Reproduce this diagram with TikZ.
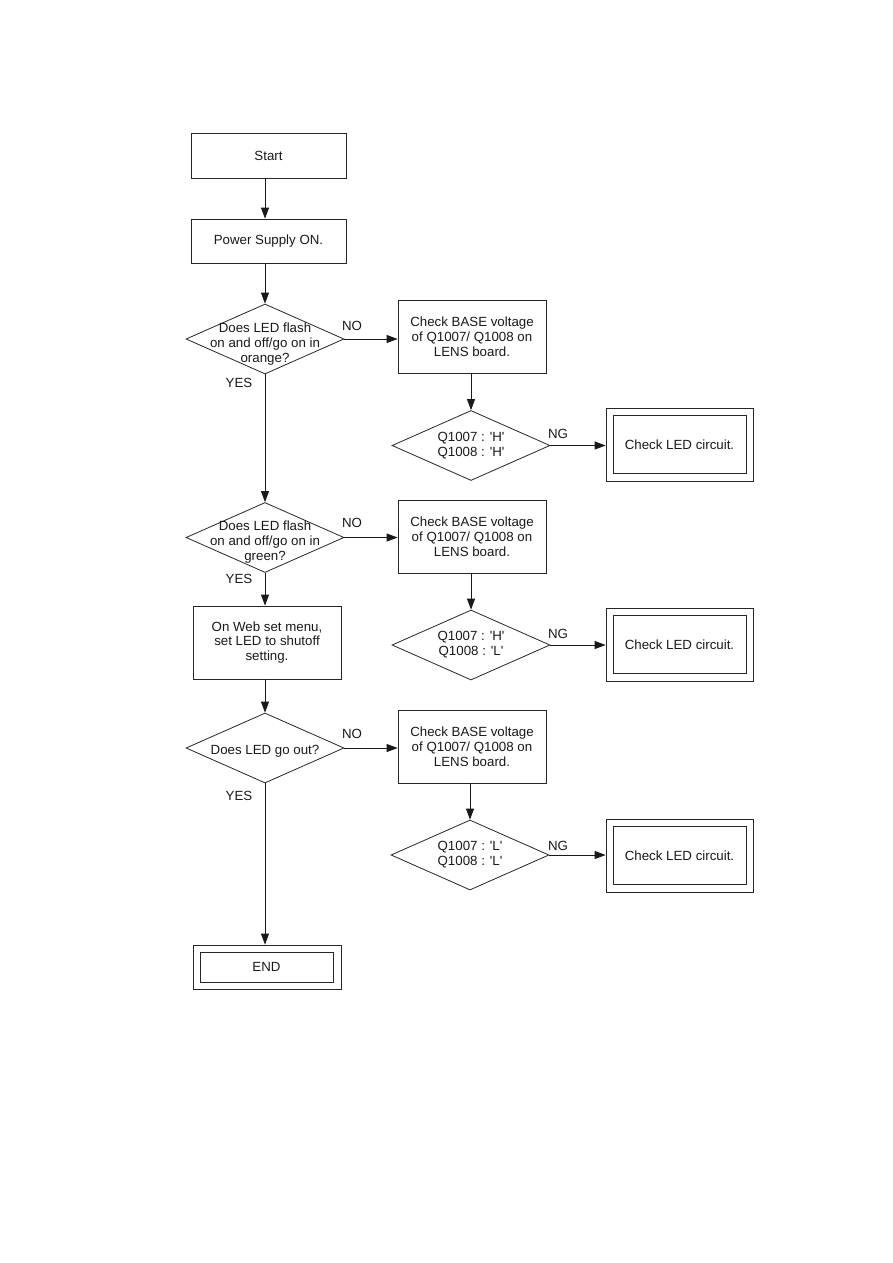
\documentclass[tikz,border=0pt]{standalone}
\usepackage{fontspec}
\setmainfont{Liberation Sans}[Ligatures=TeXOff]
\usetikzlibrary{shapes.geometric,arrows.meta}
\begin{document}
\begin{tikzpicture}[x=1pt,y=-1pt,
  every node/.style={font=\fontsize{13.3}{14.8}\selectfont, text=black!90},
  box/.style={draw=black!85, line width=0.8pt, inner sep=0pt, align=center},
  dia/.style={draw=black!85, line width=0.8pt, diamond, inner sep=0pt, minimum width=158pt, minimum height=70pt},
  dtxt/.style={inner sep=0pt, align=center},
  inbox/.style={draw=black!85, line width=0.8pt, inner sep=0pt},
  lab/.style={inner sep=0pt},
  arr/.style={draw=black!90, line width=0.8pt, -{Triangle[length=11pt,width=8pt]}},
]
\useasboundingbox (0,0) rectangle (893,1263);

% main column
\node[box, minimum width=155pt, minimum height=45pt] (start) at (268.5,155.5) {Start};
\node[box, minimum width=155pt, minimum height=44pt] (pwr) at (268.5,241) {Power Supply ON.};
\node[dia] (d1) at (265,339) {};
\node[dtxt] (d1t) at (265,344) {Does LED flash\\on and off/go on in\\orange?};
\node[dia] (d2) at (265,537.5) {};
\node[dtxt] (d2t) at (265,542) {Does LED flash\\on and off/go on in\\green?};
\node[box, minimum width=148pt, minimum height=73pt] (web) at (267,642.5) {On Web set menu,\\set LED to shutoff\\setting.};
\node[dia] (d3) at (265,748) {};
\node[dtxt] (d3t) at (265,751) {Does LED go out?};
\node[box, minimum width=148pt, minimum height=44pt] (endo) at (267,967) {};
\node[inbox, minimum width=133pt, minimum height=30pt] (endi) at (266.5,967) {END};

% right column
\node[box, minimum width=148pt, minimum height=73pt] (c1) at (472,336.5) {Check BASE voltage\\of Q1007/ Q1008 on\\LENS board.};
\node[box, minimum width=148pt, minimum height=73pt] (c2) at (472,536.5) {Check BASE voltage\\of Q1007/ Q1008 on\\LENS board.};
\node[box, minimum width=148pt, minimum height=73pt] (c3) at (472,746.5) {Check BASE voltage\\of Q1007/ Q1008 on\\LENS board.};

\node[dia] (q1) at (471,445.5) {};
\node[dtxt] (q1t) at (471,445.5) {Q1007 : 'H'\\Q1008 : 'H'};
\node[dia] (q2) at (471,645) {};
\node[dtxt] (q2t) at (471,645) {Q1007 : 'H'\\Q1008 : 'L'};
\node[dia] (q3) at (470,855) {};
\node[dtxt] (q3t) at (470,855) {Q1007 : 'L'\\Q1008 : 'L'};

\node[box, minimum width=147pt, minimum height=73pt] (l1o) at (679.5,444.5) {};
\node[inbox, minimum width=133pt, minimum height=58pt] (l1) at (679.5,444.5) {Check LED circuit.};
\node[box, minimum width=147pt, minimum height=73pt] (l2o) at (679.5,644.5) {};
\node[inbox, minimum width=133pt, minimum height=58pt] (l2) at (679.5,644.5) {Check LED circuit.};
\node[box, minimum width=147pt, minimum height=73pt] (l3o) at (679.5,855.5) {};
\node[inbox, minimum width=133pt, minimum height=58pt] (l3) at (679.5,855.5) {Check LED circuit.};

% connectors
\draw[arr] (start.south -| d1.north) -- (pwr.north -| d1.north);
\draw[arr] (pwr.south -| d1.north) -- (d1.north);
\draw[arr] (d1.south) -- (d2.north);
\draw[arr] (d2.south) -- (web.north -| d2.south);
\draw[arr] (web.south -| d3.north) -- (d3.north);
\draw[arr] (d3.south) -- (endo.north -| d3.south);

\draw[arr] (d1.east) -- (c1.west |- d1.east);
\draw[arr] (d2.east) -- (c2.west |- d2.east);
\draw[arr] (d3.east) -- (c3.west |- d3.east);

\draw[arr] (c1.south -| q1.north) -- (q1.north);
\draw[arr] (c2.south -| q2.north) -- (q2.north);
\draw[arr] (c3.south -| q3.north) -- (q3.north);

\draw[arr] (q1.east) -- (l1o.west |- q1.east);
\draw[arr] (q2.east) -- (l2o.west |- q2.east);
\draw[arr] (q3.east) -- (l3o.west |- q3.east);

% labels
\node[lab] (no1) at (352,326) {NO};
\node[lab] (yes1) at (239,383) {YES};
\node[lab] (no2) at (352,523) {NO};
\node[lab] (yes2) at (239,579) {YES};
\node[lab] (no3) at (352,734) {NO};
\node[lab] (yes3) at (239,796) {YES};
\node[lab] (ng1) at (558,434) {NG};
\node[lab] (ng2) at (558,634) {NG};
\node[lab] (ng3) at (558,846) {NG};
\end{tikzpicture}
\end{document}
